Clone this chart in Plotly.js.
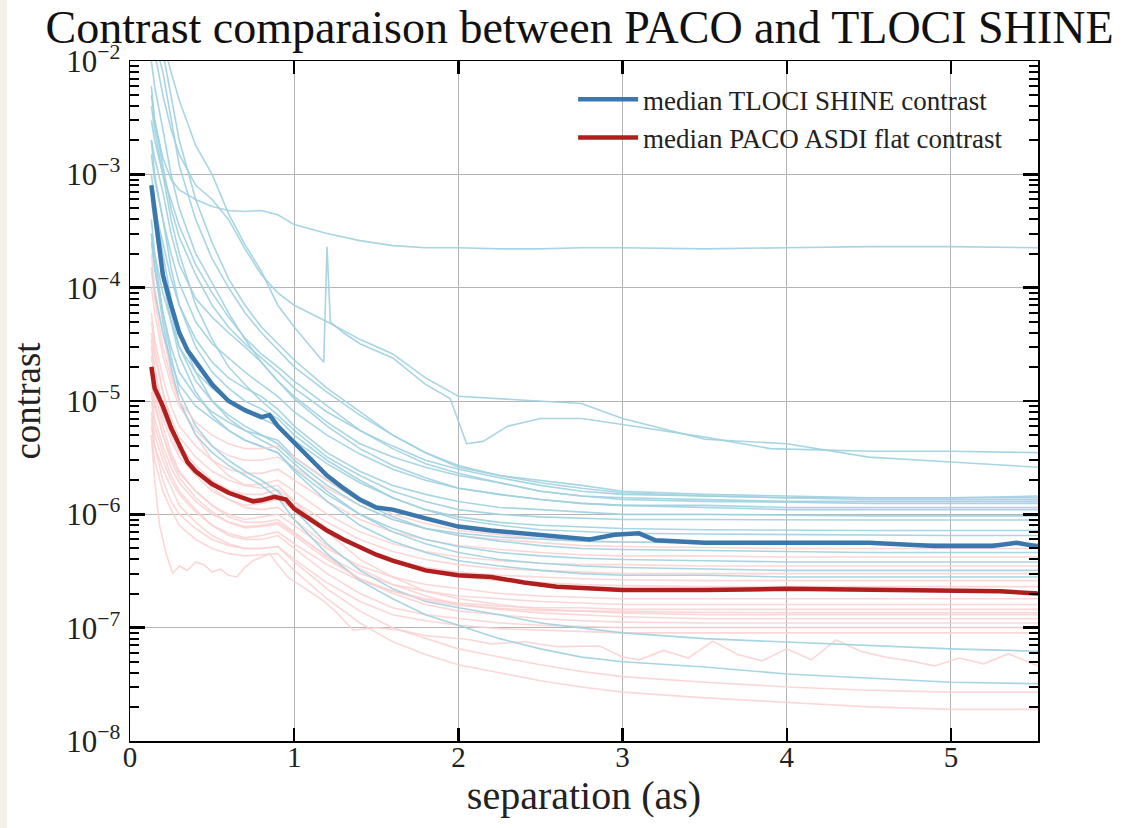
<!DOCTYPE html>
<html>
<head>
<meta charset="utf-8">
<script src="https://cdn.plot.ly/plotly-3.0.1.min.js"></script>
<style>
  html, body { margin: 0; padding: 0; background: #f4f1e8; }
  #chart { position: absolute; left: 7px; top: 0; width: 1127px; height: 828px; background: #ffffff; }
</style>
</head>
<body>
<div id="chart"></div>
<script>
// ---------- shared separation grid (arcsec) ----------
const sepGrid = [0.13, 0.15, 0.2, 0.25, 0.3, 0.4, 0.5, 0.6, 0.7, 0.8, 0.9, 1.0, 1.2, 1.4, 1.6, 1.8, 2.0, 2.25, 2.5, 2.75, 3.0, 3.5, 4.0, 4.5, 5.0, 5.53];

// ---------- individual TLOCI SHINE contrast curves ----------
const blue01 = [6e-3, 3e-3, 1.4e-3, 9e-4, 7.3e-4, 6e-4, 5.2e-4, 4.8e-4, 4.7e-4, 4.8e-4, 4.4e-4, 3.6e-4, 3.0e-4, 2.6e-4, 2.35e-4, 2.25e-4, 2.25e-4, 2.2e-4, 2.2e-4, 2.25e-4, 2.25e-4, 2.2e-4, 2.25e-4, 2.3e-4, 2.3e-4, 2.25e-4];
const sepBlue02 = [0.13, 0.15, 0.2, 0.25, 0.3, 0.4, 0.5, 0.6, 0.7, 0.8, 0.9, 1.0, 1.1, 1.18, 1.2, 1.22, 1.3, 1.4, 1.6, 1.8, 1.95, 2.05, 2.15, 2.3, 2.5, 2.75, 3.0, 3.5, 3.9, 4.5, 5.0, 5.53];
const blue02 = [3e-2, 2.5e-2, 1.5e-2, 8e-3, 4.5e-3, 1.8e-3, 1e-3, 4.5e-4, 2.4e-4, 1.4e-4, 7e-5, 4.5e-5, 3e-5, 2.2e-5, 2.3e-4, 5e-5, 4e-5, 3.2e-5, 2.4e-5, 1.4e-5, 1.05e-5, 4.2e-6, 4.4e-6, 6e-6, 7e-6, 7e-6, 6.2e-6, 4.8e-6, 3.8e-6, 3.6e-6, 3.6e-6, 3.5e-6];
const blue03 = [2e-2, 1.2e-2, 5e-3, 2.5e-3, 1.5e-3, 8e-4, 6e-4, 4e-4, 2.2e-4, 1.3e-4, 9e-5, 7e-5, 5e-5, 3.5e-5, 2.6e-5, 1.6e-5, 1.1e-5, 1.05e-5, 1e-5, 9.5e-6, 7e-6, 4.6e-6, 4.2e-6, 3.2e-6, 2.9e-6, 2.6e-6];
const blue04 = [5e-3, 3e-3, 1.2e-3, 5e-4, 2.8e-4, 1.3e-4, 7e-5, 4.5e-5, 3.2e-5, 2.4e-5, 1.8e-5, 1.3e-5, 8e-6, 5.5e-6, 4e-6, 3e-6, 2.5e-6, 2.1e-6, 1.8e-6, 1.6e-6, 1.5e-6, 1.45e-6, 1.4e-6, 1.4e-6, 1.4e-6, 1.4e-6];
const blue05 = [2e-3, 1.4e-3, 7e-4, 3e-4, 1.6e-4, 8e-5, 5.5e-5, 4e-5, 3e-5, 2.2e-5, 1.5e-5, 1.1e-5, 6.5e-6, 4.2e-6, 3.2e-6, 2.6e-6, 2.2e-6, 1.9e-6, 1.6e-6, 1.45e-6, 1.4e-6, 1.35e-6, 1.3e-6, 1.3e-6, 1.3e-6, 1.3e-6];
const blue06 = [1.5e-3, 9e-4, 4e-4, 2e-4, 1.1e-4, 5e-5, 3.2e-5, 2.4e-5, 1.8e-5, 1.4e-5, 1.1e-5, 8e-6, 5e-6, 3.4e-6, 2.5e-6, 2e-6, 1.7e-6, 1.5e-6, 1.35e-6, 1.25e-6, 1.2e-6, 1.2e-6, 1.15e-6, 1.15e-6, 1.15e-6, 1.15e-6];
const blue07 = [8e-4, 5e-4, 2.5e-4, 1.2e-4, 7e-5, 3.5e-5, 2.2e-5, 1.6e-5, 1.3e-5, 1.1e-5, 8.5e-6, 6e-6, 3.5e-6, 2.4e-6, 1.8e-6, 1.5e-6, 1.3e-6, 1.15e-6, 1.1e-6, 1.05e-6, 1.0e-6, 1.0e-6, 9.8e-7, 9.7e-7, 9.7e-7, 9.7e-7];
const blue08 = [4e-3, 2.5e-3, 1e-3, 4e-4, 2e-4, 7e-5, 3.5e-5, 2e-5, 1.4e-5, 1.0e-5, 7.5e-6, 5.5e-6, 3.2e-6, 2.2e-6, 1.6e-6, 1.3e-6, 1.1e-6, 1.0e-6, 9.5e-7, 9.2e-7, 9e-7, 9e-7, 8.9e-7, 8.9e-7, 8.9e-7, 8.9e-7];
const blue09 = [3e-4, 2e-4, 9e-5, 5e-5, 3e-5, 1.8e-5, 1.3e-5, 1e-5, 8e-6, 7e-6, 6e-6, 4.5e-6, 2.8e-6, 1.9e-6, 1.4e-6, 1.1e-6, 9.5e-7, 8.5e-7, 8e-7, 7.7e-7, 7.5e-7, 7.3e-7, 7.2e-7, 7.2e-7, 7.2e-7, 7.2e-7];
const blue10 = [2.5e-4, 1.5e-4, 6e-5, 3e-5, 1.8e-5, 1.1e-5, 8e-6, 6.5e-6, 5.5e-6, 5e-6, 4.5e-6, 3.2e-6, 2e-6, 1.3e-6, 9.5e-7, 7.5e-7, 6.5e-7, 5.8e-7, 5.3e-7, 5e-7, 4.9e-7, 4.8e-7, 4.7e-7, 4.6e-7, 4.6e-7, 4.6e-7];
const blue11 = [1.5e-4, 9e-5, 4e-5, 2.2e-5, 1.4e-5, 9e-6, 7e-6, 5.5e-6, 4.5e-6, 4e-6, 3.5e-6, 2.5e-6, 1.5e-6, 1e-6, 7.5e-7, 6e-7, 5.2e-7, 4.6e-7, 4.3e-7, 4.1e-7, 4e-7, 3.9e-7, 3.8e-7, 3.8e-7, 3.8e-7, 3.8e-7];
const blue12 = [1e-3, 6e-4, 2e-4, 8e-5, 4e-5, 1.8e-5, 1e-5, 7e-6, 5.5e-6, 4.5e-6, 3.8e-6, 2.8e-6, 1.6e-6, 1e-6, 7e-7, 5.5e-7, 4.6e-7, 4e-7, 3.7e-7, 3.5e-7, 3.4e-7, 3.3e-7, 3.2e-7, 3.2e-7, 3.2e-7, 3.2e-7];
const blue13 = [6e-4, 3.5e-4, 1.2e-4, 5e-5, 2.5e-5, 1.2e-5, 7.5e-6, 5.5e-6, 4.5e-6, 4e-6, 3.5e-6, 2.4e-6, 1.3e-6, 8e-7, 5.8e-7, 4.6e-7, 3.9e-7, 3.5e-7, 3.2e-7, 3.0e-7, 2.9e-7, 2.9e-7, 2.8e-7, 2.8e-7, 2.8e-7, 2.8e-7];
const blue14 = [4e-4, 2e-4, 6e-5, 2.5e-5, 1.2e-5, 6e-6, 4e-6, 3e-6, 2.4e-6, 2e-6, 1.6e-6, 1.1e-6, 5.5e-7, 3.2e-7, 2.2e-7, 1.7e-7, 1.5e-7, 1.3e-7, 1.1e-7, 1e-7, 9e-8, 8e-8, 7.5e-8, 7e-8, 6.5e-8, 6.2e-8];
const blue15 = [3e-4, 1.5e-4, 5e-5, 2e-5, 1e-5, 5e-6, 3.5e-6, 2.7e-6, 2.2e-6, 1.8e-6, 1.4e-6, 9e-7, 4.5e-7, 2.6e-7, 1.8e-7, 1.3e-7, 1.05e-7, 8e-8, 6.5e-8, 5.5e-8, 5e-8, 4.5e-8, 3.9e-8, 3.6e-8, 3.3e-8, 3.2e-8];
const blue16 = [2e-2, 1.5e-2, 8e-3, 3e-3, 1.2e-3, 4e-4, 1.8e-4, 1e-4, 6e-5, 4e-5, 2.8e-5, 2e-5, 1.2e-5, 7.5e-6, 5e-6, 3.5e-6, 2.7e-6, 2.2e-6, 1.9e-6, 1.7e-6, 1.55e-6, 1.45e-6, 1.4e-6, 1.35e-6, 1.35e-6, 1.35e-6];
const blue17 = [3e-3, 2e-3, 1e-3, 6e-4, 3.5e-4, 1.6e-4, 9e-5, 5.5e-5, 3.6e-5, 2.6e-5, 2e-5, 1.5e-5, 9e-6, 5.5e-6, 3.8e-6, 2.8e-6, 2.3e-6, 1.9e-6, 1.6e-6, 1.45e-6, 1.35e-6, 1.3e-6, 1.28e-6, 1.25e-6, 1.25e-6, 1.25e-6];
const blue18 = [1e-2, 6e-3, 2.5e-3, 1e-3, 5e-4, 2e-4, 1.1e-4, 6e-5, 3.5e-5, 2.2e-5, 1.5e-5, 1.05e-5, 6e-6, 3.8e-6, 2.7e-6, 2.1e-6, 1.7e-6, 1.5e-6, 1.35e-6, 1.25e-6, 1.2e-6, 1.15e-6, 1.1e-6, 1.1e-6, 1.1e-6, 1.1e-6];
const blue19 = [7e-4, 4e-4, 1.5e-4, 6e-5, 3e-5, 1.5e-5, 1e-5, 7.5e-6, 6e-6, 5e-6, 4.2e-6, 3e-6, 1.8e-6, 1.2e-6, 9e-7, 7.5e-7, 6.8e-7, 6.3e-7, 6e-7, 5.8e-7, 5.7e-7, 5.6e-7, 5.5e-7, 5.5e-7, 5.5e-7, 5.5e-7];
const blue20 = [2e-3, 1e-3, 4e-4, 1.5e-4, 7e-5, 3e-5, 1.8e-5, 1.3e-5, 1e-5, 8.5e-6, 7e-6, 5e-6, 3e-6, 2e-6, 1.4e-6, 1.1e-6, 9e-7, 8e-7, 7.3e-7, 7e-7, 6.8e-7, 6.7e-7, 6.6e-7, 6.5e-7, 6.5e-7, 6.5e-7];
const blue21 = [5e-2, 3e-2, 1.2e-2, 5e-3, 2e-3, 6e-4, 2.5e-4, 1.2e-4, 7e-5, 4.5e-5, 3.2e-5, 2.3e-5, 1.3e-5, 8e-6, 5e-6, 3.5e-6, 2.6e-6, 2.2e-6, 2e-6, 1.8e-6, 1.6e-6, 1.5e-6, 1.45e-6, 1.4e-6, 1.4e-6, 1.45e-6];

// ---------- individual PACO ASDI flat contrast curves ----------
const pink01 = [1e-4, 6e-5, 2.5e-5, 1.4e-5, 9e-6, 5.5e-6, 4e-6, 3.3e-6, 3e-6, 3e-6, 3.2e-6, 2.6e-6, 1.7e-6, 1.2e-6, 9e-7, 7.5e-7, 6.5e-7, 6e-7, 5.6e-7, 5.3e-7, 5.2e-7, 5.1e-7, 5e-7, 5e-7, 5e-7, 5e-7];
const pink02 = [6e-5, 3.5e-5, 1.6e-5, 9e-6, 6e-6, 4e-6, 3e-6, 2.5e-6, 2.3e-6, 2.3e-6, 2.5e-6, 2e-6, 1.3e-6, 9e-7, 7e-7, 6e-7, 5.3e-7, 4.9e-7, 4.6e-7, 4.4e-7, 4.3e-7, 4.3e-7, 4.2e-7, 4.2e-7, 4.2e-7, 4.2e-7];
const pink03 = [4e-5, 2.5e-5, 1.2e-5, 7e-6, 4.8e-6, 3.2e-6, 2.4e-6, 2e-6, 1.8e-6, 1.85e-6, 2e-6, 1.6e-6, 1e-6, 7e-7, 5.5e-7, 4.7e-7, 4.2e-7, 3.9e-7, 3.7e-7, 3.6e-7, 3.6e-7, 3.5e-7, 3.5e-7, 3.5e-7, 3.5e-7, 3.5e-7];
const pink04 = [3e-5, 1.8e-5, 9e-6, 5.5e-6, 4e-6, 2.7e-6, 2e-6, 1.65e-6, 1.5e-6, 1.5e-6, 1.65e-6, 1.3e-6, 8.5e-7, 6e-7, 4.7e-7, 4e-7, 3.6e-7, 3.3e-7, 3.2e-7, 3.1e-7, 3e-7, 3e-7, 3e-7, 3e-7, 3e-7, 3e-7];
const pink05 = [2.5e-5, 1.5e-5, 7e-6, 4.5e-6, 3.2e-6, 2.2e-6, 1.6e-6, 1.35e-6, 1.2e-6, 1.25e-6, 1.35e-6, 1.1e-6, 7e-7, 5e-7, 4e-7, 3.4e-7, 3.1e-7, 2.9e-7, 2.8e-7, 2.7e-7, 2.65e-7, 2.6e-7, 2.6e-7, 2.6e-7, 2.6e-7, 2.6e-7];
const pink06 = [1.5e-5, 9e-6, 5e-6, 3.2e-6, 2.3e-6, 1.6e-6, 1.2e-6, 1e-6, 9e-7, 9.5e-7, 1e-6, 8e-7, 5e-7, 3.5e-7, 2.8e-7, 2.4e-7, 2.2e-7, 2e-7, 1.9e-7, 1.85e-7, 1.8e-7, 1.8e-7, 1.8e-7, 1.8e-7, 1.8e-7, 1.8e-7];
const pink07 = [1.2e-5, 7e-6, 4e-6, 2.6e-6, 1.9e-6, 1.3e-6, 1e-6, 8.5e-7, 7.8e-7, 8e-7, 8.5e-7, 6.8e-7, 4.3e-7, 3e-7, 2.4e-7, 2.1e-7, 1.9e-7, 1.8e-7, 1.7e-7, 1.65e-7, 1.6e-7, 1.6e-7, 1.6e-7, 1.6e-7, 1.6e-7, 1.6e-7];
const pink08 = [8e-6, 5e-6, 3e-6, 2e-6, 1.5e-6, 1.05e-6, 8e-7, 6.8e-7, 6.2e-7, 6.5e-7, 7e-7, 5.5e-7, 3.6e-7, 2.6e-7, 2.1e-7, 1.8e-7, 1.65e-7, 1.55e-7, 1.5e-7, 1.5e-7, 1.45e-7, 1.45e-7, 1.45e-7, 1.45e-7, 1.45e-7, 1.45e-7];
const pink09 = [2e-4, 1e-4, 4e-5, 1.8e-5, 1e-5, 5e-6, 3e-6, 2.2e-6, 1.8e-6, 1.7e-6, 1.8e-6, 1.3e-6, 7e-7, 4e-7, 2.8e-7, 2.1e-7, 1.8e-7, 1.6e-7, 1.45e-7, 1.4e-7, 1.35e-7, 1.3e-7, 1.3e-7, 1.3e-7, 1.3e-7, 1.3e-7];
const pink10 = [5e-5, 3e-5, 1.2e-5, 6e-6, 3.8e-6, 2.4e-6, 1.7e-6, 1.35e-6, 1.15e-6, 1.1e-6, 1.15e-6, 9e-7, 5.3e-7, 3.3e-7, 2.4e-7, 1.9e-7, 1.6e-7, 1.45e-7, 1.35e-7, 1.3e-7, 1.25e-7, 1.2e-7, 1.2e-7, 1.2e-7, 1.2e-7, 1.2e-7];
const pink11 = [2e-5, 1.2e-5, 6e-6, 3.5e-6, 2.4e-6, 1.6e-6, 1.2e-6, 9.5e-7, 8.5e-7, 8.5e-7, 9e-7, 7e-7, 4.2e-7, 2.7e-7, 2e-7, 1.6e-7, 1.4e-7, 1.3e-7, 1.2e-7, 1.15e-7, 1.12e-7, 1.1e-7, 1.1e-7, 1.1e-7, 1.1e-7, 1.1e-7];
const pink12 = [1e-5, 6e-6, 3.5e-6, 2.2e-6, 1.6e-6, 1.1e-6, 8e-7, 6.5e-7, 6e-7, 6e-7, 6.5e-7, 5e-7, 3e-7, 2e-7, 1.5e-7, 1.3e-7, 1.2e-7, 1.1e-7, 1.05e-7, 1.02e-7, 1e-7, 1e-7, 1e-7, 1e-7, 1e-7, 1e-7];
const pink13 = [7e-6, 4e-6, 2.5e-6, 1.7e-6, 1.2e-6, 8.5e-7, 6.5e-7, 5.5e-7, 5e-7, 5e-7, 5.2e-7, 4e-7, 2.5e-7, 1.7e-7, 1.3e-7, 1.15e-7, 1.05e-7, 9.8e-8, 9.5e-8, 9.2e-8, 9e-8, 9e-8, 9e-8, 9e-8, 9e-8, 9e-8];
const sepPink14 = [0.13, 0.15, 0.18, 0.22, 0.26, 0.3, 0.35, 0.4, 0.45, 0.5, 0.55, 0.6, 0.65, 0.7, 0.75, 0.8, 0.85, 0.9, 0.96, 1.05, 1.16, 1.25, 1.36, 1.5, 1.65, 1.8, 2.05, 2.2, 2.4, 2.6, 2.86, 3.0, 3.1, 3.25, 3.4, 3.55, 3.7, 3.85, 4.0, 4.15, 4.3, 4.45, 4.6, 4.75, 4.9, 5.05, 5.2, 5.35, 5.53];
const pink14 = [5e-6, 2e-6, 8e-7, 4.5e-7, 3e-7, 3.5e-7, 3.2e-7, 3.8e-7, 3.6e-7, 3.1e-7, 3.3e-7, 2.9e-7, 2.8e-7, 3.4e-7, 3.9e-7, 4.2e-7, 4.5e-7, 3.6e-7, 2.8e-7, 2.3e-7, 1.8e-7, 1.4e-7, 9.5e-8, 1e-7, 9.5e-8, 8.5e-8, 7.9e-8, 7.2e-8, 7.5e-8, 6.8e-8, 6.9e-8, 5.5e-8, 5.2e-8, 6.3e-8, 5.4e-8, 7.6e-8, 5.8e-8, 5.1e-8, 6.5e-8, 5.2e-8, 7.8e-8, 6.2e-8, 5.5e-8, 5.1e-8, 4.6e-8, 5.4e-8, 4.8e-8, 5.9e-8, 4.6e-8];
const pink15 = [6e-6, 4e-6, 2e-6, 1.3e-6, 1e-6, 7.5e-7, 6e-7, 5.3e-7, 5e-7, 5e-7, 5.2e-7, 3.8e-7, 2.2e-7, 1.4e-7, 1e-7, 8e-8, 6.5e-8, 5.5e-8, 4.7e-8, 4.1e-8, 3.7e-8, 3.3e-8, 3e-8, 2.8e-8, 2.7e-8, 2.7e-8];
const pink16 = [5e-6, 3e-6, 1.6e-6, 1.1e-6, 8e-7, 6e-7, 5e-7, 4.5e-7, 4.3e-7, 4.4e-7, 4.5e-7, 3.2e-7, 1.8e-7, 1.1e-7, 7.5e-8, 5.8e-8, 4.7e-8, 4e-8, 3.4e-8, 3e-8, 2.7e-8, 2.4e-8, 2.2e-8, 2e-8, 1.9e-8, 1.9e-8];
const pink17 = [1.5e-4, 8e-5, 3e-5, 1.6e-5, 1e-5, 6.5e-6, 5e-6, 4.2e-6, 3.8e-6, 3.8e-6, 4e-6, 3.2e-6, 2e-6, 1.35e-6, 1e-6, 8.3e-7, 7.2e-7, 6.6e-7, 6.1e-7, 5.8e-7, 5.7e-7, 5.6e-7, 5.5e-7, 5.5e-7, 5.5e-7, 5.5e-7];
const pink18 = [3.5e-5, 2e-5, 8e-6, 5e-6, 3.5e-6, 2.4e-6, 1.8e-6, 1.5e-6, 1.35e-6, 1.4e-6, 1.5e-6, 1.2e-6, 7.5e-7, 5e-7, 3.8e-7, 3.1e-7, 2.8e-7, 2.6e-7, 2.5e-7, 2.4e-7, 2.35e-7, 2.3e-7, 2.3e-7, 2.3e-7, 2.3e-7, 2.3e-7];
const pink19 = [1.8e-5, 1e-5, 5e-6, 3e-6, 2.1e-6, 1.4e-6, 1.05e-6, 8.5e-7, 7.6e-7, 7.8e-7, 8.2e-7, 6.5e-7, 4e-7, 2.7e-7, 2.1e-7, 1.75e-7, 1.58e-7, 1.48e-7, 1.42e-7, 1.4e-7, 1.38e-7, 1.36e-7, 1.35e-7, 1.35e-7, 1.35e-7, 1.35e-7];

// ---------- medians ----------
const sepBlueMedian = [0.13, 0.15, 0.18, 0.2, 0.25, 0.3, 0.35, 0.4, 0.5, 0.6, 0.7, 0.8, 0.85, 0.9, 1.0, 1.1, 1.2, 1.3, 1.4, 1.5, 1.6, 1.8, 2.0, 2.2, 2.4, 2.6, 2.8, 2.95, 3.1, 3.2, 3.5, 4.0, 4.5, 4.9, 5.25, 5.4, 5.53];
const blueMedian = [8e-4, 4.5e-4, 2.2e-4, 1.3e-4, 7e-5, 4e-5, 2.8e-5, 2.2e-5, 1.4e-5, 1.0e-5, 8.3e-6, 7.2e-6, 7.5e-6, 6e-6, 4.3e-6, 3.0e-6, 2.2e-6, 1.7e-6, 1.35e-6, 1.15e-6, 1.1e-6, 9.2e-7, 7.8e-7, 7.2e-7, 6.8e-7, 6.3e-7, 6.0e-7, 6.6e-7, 6.8e-7, 5.9e-7, 5.6e-7, 5.6e-7, 5.6e-7, 5.25e-7, 5.25e-7, 5.6e-7, 5.2e-7];
const sepRedMedian = [0.13, 0.15, 0.2, 0.25, 0.3, 0.35, 0.4, 0.5, 0.6, 0.7, 0.75, 0.8, 0.88, 0.95, 1.0, 1.1, 1.2, 1.3, 1.4, 1.5, 1.6, 1.8, 2.0, 2.2, 2.4, 2.6, 3.0, 3.5, 4.0, 4.5, 5.0, 5.3, 5.53];
const redMedian = [2.0e-5, 1.3e-5, 9e-6, 5.8e-6, 4.1e-6, 2.9e-6, 2.4e-6, 1.85e-6, 1.55e-6, 1.38e-6, 1.3e-6, 1.33e-6, 1.43e-6, 1.35e-6, 1.12e-6, 9e-7, 7.2e-7, 6.0e-7, 5.1e-7, 4.4e-7, 3.9e-7, 3.2e-7, 2.9e-7, 2.8e-7, 2.5e-7, 2.3e-7, 2.15e-7, 2.15e-7, 2.2e-7, 2.15e-7, 2.1e-7, 2.1e-7, 2.0e-7];

// ---------- tick labels ----------
const xTickVals = [0, 1, 2, 3, 4, 5];
const xTickText = ['0', '1', '2', '3', '4', '5'];
const yTickVals = [1e-8, 1e-7, 1e-6, 1e-5, 1e-4, 1e-3, 1e-2];
const yTickText = ['10<sup>\u22128</sup>', '10<sup>\u22127</sup>', '10<sup>\u22126</sup>', '10<sup>\u22125</sup>', '10<sup>\u22124</sup>', '10<sup>\u22123</sup>', '10<sup>\u22122</sup>'];

const blueCurves = [
  [sepGrid, blue01], [sepBlue02, blue02], [sepGrid, blue03], [sepGrid, blue04], [sepGrid, blue05],
  [sepGrid, blue06], [sepGrid, blue07], [sepGrid, blue08], [sepGrid, blue09], [sepGrid, blue10],
  [sepGrid, blue11], [sepGrid, blue12], [sepGrid, blue13], [sepGrid, blue14], [sepGrid, blue15],
  [sepGrid, blue16], [sepGrid, blue17], [sepGrid, blue18], [sepGrid, blue19], [sepGrid, blue20],
  [sepGrid, blue21]
];
const pinkCurves = [
  [sepGrid, pink01], [sepGrid, pink02], [sepGrid, pink03], [sepGrid, pink04], [sepGrid, pink05],
  [sepGrid, pink06], [sepGrid, pink07], [sepGrid, pink08], [sepGrid, pink09], [sepGrid, pink10],
  [sepGrid, pink11], [sepGrid, pink12], [sepGrid, pink13], [sepPink14, pink14], [sepGrid, pink15],
  [sepGrid, pink16], [sepGrid, pink17], [sepGrid, pink18], [sepGrid, pink19]
];

const thinBlue = 'rgba(158,208,224,0.9)';
const thinPink = 'rgba(250,208,208,0.85)';
const traces = [];
const n = Math.max(blueCurves.length, pinkCurves.length);
for (let i = 0; i < n; i++) {
  if (i < pinkCurves.length) {
    traces.push({x: pinkCurves[i][0], y: pinkCurves[i][1], type: 'scatter', mode: 'lines',
      line: {color: thinPink, width: 1.6}, showlegend: false, hoverinfo: 'skip'});
  }
  if (i < blueCurves.length) {
    traces.push({x: blueCurves[i][0], y: blueCurves[i][1], type: 'scatter', mode: 'lines',
      line: {color: thinBlue, width: 1.6}, showlegend: false, hoverinfo: 'skip'});
  }
}
traces.push({x: sepBlueMedian, y: blueMedian, type: 'scatter', mode: 'lines', name: 'median TLOCI SHINE contrast',
  line: {color: '#3a77ad', width: 4.5}});
traces.push({x: sepRedMedian, y: redMedian, type: 'scatter', mode: 'lines', name: 'median PACO ASDI flat contrast',
  line: {color: '#b01e1e', width: 4.5}});

const serif = '"Liberation Serif", "DejaVu Serif", serif';
const layout = {
  width: 1127, height: 828,
  paper_bgcolor: '#ffffff', plot_bgcolor: '#ffffff',
  margin: {l: 123, r: 96, t: 61, b: 87, pad: 0},
  font: {family: serif, color: '#222222', size: 26},
  title: {text: 'Contrast comparaison between PACO and TLOCI SHINE', font: {family: serif, size: 46, color: '#111111'},
    x: 0.508, xref: 'container', xanchor: 'center', y: 0.967, yref: 'container', yanchor: 'middle'},
  showlegend: true,
  legend: {x: 0.488, y: 0.979, xanchor: 'left', yanchor: 'top', bgcolor: 'rgba(0,0,0,0)',
    font: {family: serif, size: 27, color: '#222222'}, itemwidth: 60, tracegroupgap: 2},
  xaxis: {
    range: [0, 5.53], tickmode: 'array', tickvals: xTickVals, ticktext: xTickText,
    ticks: 'inside', ticklen: 13, tickwidth: 2.5, tickcolor: '#000000',
    showline: true, linecolor: '#000000', linewidth: 1.5, mirror: 'allticks',
    showgrid: true, gridcolor: '#b4b4b4', gridwidth: 1, zeroline: false,
    tickfont: {family: serif, size: 29, color: '#222222'}, ticklabelstandoff: -10,
    title: {text: 'separation (as)', font: {family: serif, size: 40, color: '#222222'}, standoff: 3}
  },
  yaxis: {
    type: 'log', range: [-8, -2], tickmode: 'array', tickvals: yTickVals, ticktext: yTickText,
    ticks: 'inside', ticklen: 15, tickwidth: 2.5, tickcolor: '#000000',
    minor: {ticks: 'inside', ticklen: 9, tickwidth: 2, tickcolor: '#000000', dtick: 'D1', showgrid: false},
    showline: true, linecolor: '#000000', linewidth: 1.5, mirror: 'allticks',
    showgrid: true, gridcolor: '#b4b4b4', gridwidth: 1, zeroline: false,
    tickfont: {family: serif, size: 31, color: '#222222'}, ticklabelstandoff: 2,
    title: {text: 'contrast', font: {family: serif, size: 37, color: '#222222'}, standoff: 16}
  }
};

Plotly.newPlot('chart', traces, layout, {displayModeBar: false, staticPlot: true});
</script>
</body>
</html>
